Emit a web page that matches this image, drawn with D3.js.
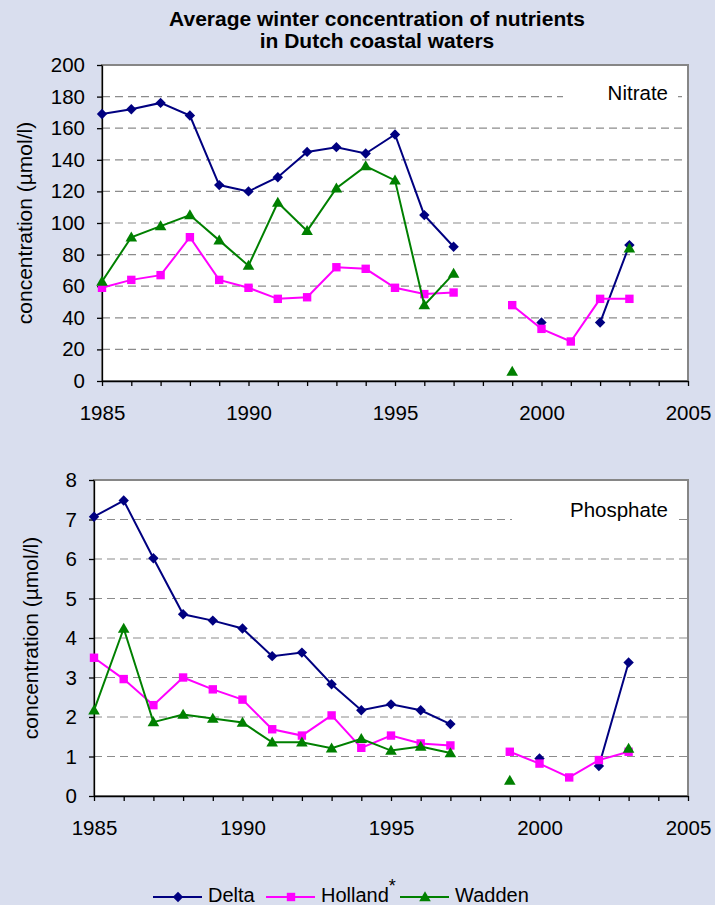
<!DOCTYPE html>
<html>
<head>
<meta charset="utf-8">
<script src="https://cdn.jsdelivr.net/npm/d3@7"></script>
<style>
  body { margin: 0; background: #d9deee; }
  svg { display: block; }
</style>
</head>
<body>
<div id="container"></div>
<script>
const width = 715;
const height = 905;
const font = '"Liberation Sans", Arial, sans-serif';

const years = [1985, 1986, 1987, 1988, 1989, 1990, 1991, 1992, 1993, 1994,
  1995, 1996, 1997, 1998, 1999, 2000, 2001, 2002, 2003];
const yearLabels = [1985, 1990, 1995, 2000, 2005];
const seriesNames = ["Delta", "Holland", "Wadden"];

const nitrateDelta = [169, 172, 176, 168, 124, 120, 129, 145, 148, 144,
  156, 105, 85, null, null, 37, null, 37, 86];
const nitrateHolland = [59, 64, 67, 91, 64, 59, 52, 53, 72, 71,
  59, 55, 56, null, 48, 33, 25, 52, 52];
const nitrateWadden = [63, 91, 98, 105, 89, 73, 113, 95, 122, 136,
  127, 48, 68, null, 6, null, null, null, 84];

const phosphateDelta = [7.07, 7.48, 6.02, 4.6, 4.44, 4.24, 3.54, 3.63, 2.83, 2.17,
  2.32, 2.17, 1.82, null, null, 0.95, null, 0.76, 3.38];
const phosphateHolland = [3.5, 2.96, 2.3, 3.0, 2.7, 2.44, 1.69, 1.53, 2.04, 1.22,
  1.53, 1.33, 1.28, null, 1.12, 0.82, 0.47, 0.91, 1.12];
const phosphateWadden = [2.17, 4.24, 1.87, 2.06, 1.96, 1.86, 1.36, 1.36, 1.21, 1.45,
  1.15, 1.25, 1.09, null, 0.39, null, null, null, 1.2];

const nitrateTicks = [0, 20, 40, 60, 80, 100, 120, 140, 160, 180, 200];
const phosphateTicks = [0, 1, 2, 3, 4, 5, 6, 7, 8];

const colours = ["#000080", "#ff00ff", "#008000"];

// marker paths centred on 0,0
const markers = [
  "M0,-5.2L5.2,0L0,5.2L-5.2,0Z",
  "M-4.2,-4.2H4.2V4.2H-4.2Z",
  "M0,-5.8L5.8,4.2H-5.8Z",
];

const svg = d3
  .select("#container")
  .append("svg")
  .attr("width", width)
  .attr("height", height)
  .style("font-family", font);

svg.append("rect").attr("width", width).attr("height", height).attr("fill", "#d9deee");

// title
const title = svg
  .append("text")
  .attr("text-anchor", "middle")
  .attr("font-weight", "bold")
  .attr("font-size", 21);
title.append("tspan").attr("x", 377).attr("y", 26).text("Average winter concentration of nutrients");
title.append("tspan").attr("x", 377).attr("y", 48).text("in Dutch coastal waters");

const right = 688;

const panels = [
  {
    name: "Nitrate",
    ticks: nitrateTicks,
    series: [nitrateDelta, nitrateHolland, nitrateWadden],
    left: 102, top: 65, bottom: 381,
    boxLeft: 563, labelGrid: 180, labelDy: 3.5, titleX: 32,
  },
  {
    name: "Phosphate",
    ticks: phosphateTicks,
    series: [phosphateDelta, phosphateHolland, phosphateWadden],
    left: 94, top: 480, bottom: 796,
    boxLeft: 512, labelGrid: 7, labelDy: -3, titleX: 38,
  },
];

panels.forEach(drawPanel);

function drawPanel(p) {
  const x = d3.scaleLinear().domain([1985, 2005]).range([p.left, right]);
  const y = d3.scaleLinear().domain([0, d3.max(p.ticks)]).range([p.bottom, p.top]);

  svg
    .append("rect")
    .attr("x", p.left)
    .attr("y", p.top)
    .attr("width", right - p.left)
    .attr("height", p.bottom - p.top)
    .attr("fill", "#fff")
    .attr("stroke", "#868686")
    .attr("stroke-width", 2);

  // dashed gridlines
  svg
    .append("g")
    .selectAll("line")
    .data(p.ticks.slice(1, -1))
    .join("line")
    .attr("x1", p.left)
    .attr("x2", right)
    .attr("y1", (d) => y(d))
    .attr("y2", (d) => y(d))
    .attr("stroke", "#8c8c8c")
    .attr("stroke-width", 1.2)
    .attr("stroke-dasharray", "8,5");

  // white text box with the nutrient name
  const gy = y(p.labelGrid);
  svg
    .append("rect")
    .attr("x", p.boxLeft)
    .attr("y", gy - 14)
    .attr("width", right - 10 - p.boxLeft)
    .attr("height", 26)
    .attr("fill", "#fff");
  svg
    .append("text")
    .attr("x", right - 20)
    .attr("y", gy + p.labelDy)
    .attr("text-anchor", "end")
    .attr("font-size", 20.5)
    .text(p.name);

  // axes
  const yAxis = svg
    .append("g")
    .attr("transform", `translate(${p.left},0)`)
    .call(d3.axisLeft(y).tickValues(p.ticks).tickSize(5).tickSizeOuter(0).tickPadding(12));
  const xAxis = svg
    .append("g")
    .attr("transform", `translate(0,${p.bottom})`)
    .call(
      d3
        .axisBottom(x)
        .tickValues(d3.range(1985, 2006))
        .tickFormat((d) => (yearLabels.includes(d) ? d : ""))
        .tickSize(5)
        .tickSizeOuter(0)
        .tickPadding(19)
    );
  [yAxis, xAxis].forEach((g) => {
    g.attr("font-family", font).attr("font-size", 20.5);
    g.selectAll("text").attr("fill", "#000");
    g.selectAll("line, path").attr("stroke", "#000").attr("stroke-width", 1.3);
  });

  // y axis title
  svg
    .append("text")
    .attr("transform", `translate(${p.titleX},${(p.top + p.bottom) / 2}) rotate(-90)`)
    .attr("text-anchor", "middle")
    .attr("font-size", 21)
    .text("concentration (\u00b5mol/l)");

  const line = d3
    .line()
    .defined((d) => d[1] != null)
    .x((d) => x(d[0]))
    .y((d) => y(d[1]));

  p.series.forEach((values, i) => {
    const pts = years.map((yr, j) => [yr, values[j]]);
    svg
      .append("path")
      .datum(pts)
      .attr("d", line)
      .attr("fill", "none")
      .attr("stroke", colours[i])
      .attr("stroke-width", 2);
    svg
      .append("g")
      .selectAll("path")
      .data(pts.filter((d) => d[1] != null))
      .join("path")
      .attr("transform", (d) => `translate(${x(d[0])},${y(d[1])})`)
      .attr("d", markers[i])
      .attr("fill", colours[i]);
  });
}

// legend
const legendX = [153, 266, 400];
const legendY = 897;
const legend = svg
  .append("g")
  .selectAll("g")
  .data(seriesNames)
  .join("g")
  .attr("transform", (d, i) => `translate(${legendX[i]},${legendY})`);
legend
  .append("line")
  .attr("x1", 0)
  .attr("x2", 49)
  .attr("stroke", (d, i) => colours[i])
  .attr("stroke-width", 2);
legend
  .append("path")
  .attr("transform", "translate(25,0)")
  .attr("d", (d, i) => markers[i])
  .attr("fill", (d, i) => colours[i]);
const legendText = legend
  .append("text")
  .attr("x", 55)
  .attr("y", 5)
  .attr("font-size", 20)
  .text((d) => d);
legendText
  .filter((d) => d === "Holland")
  .append("tspan")
  .attr("dy", -10)
  .attr("font-size", 18)
  .text("*");
</script>
</body>
</html>
